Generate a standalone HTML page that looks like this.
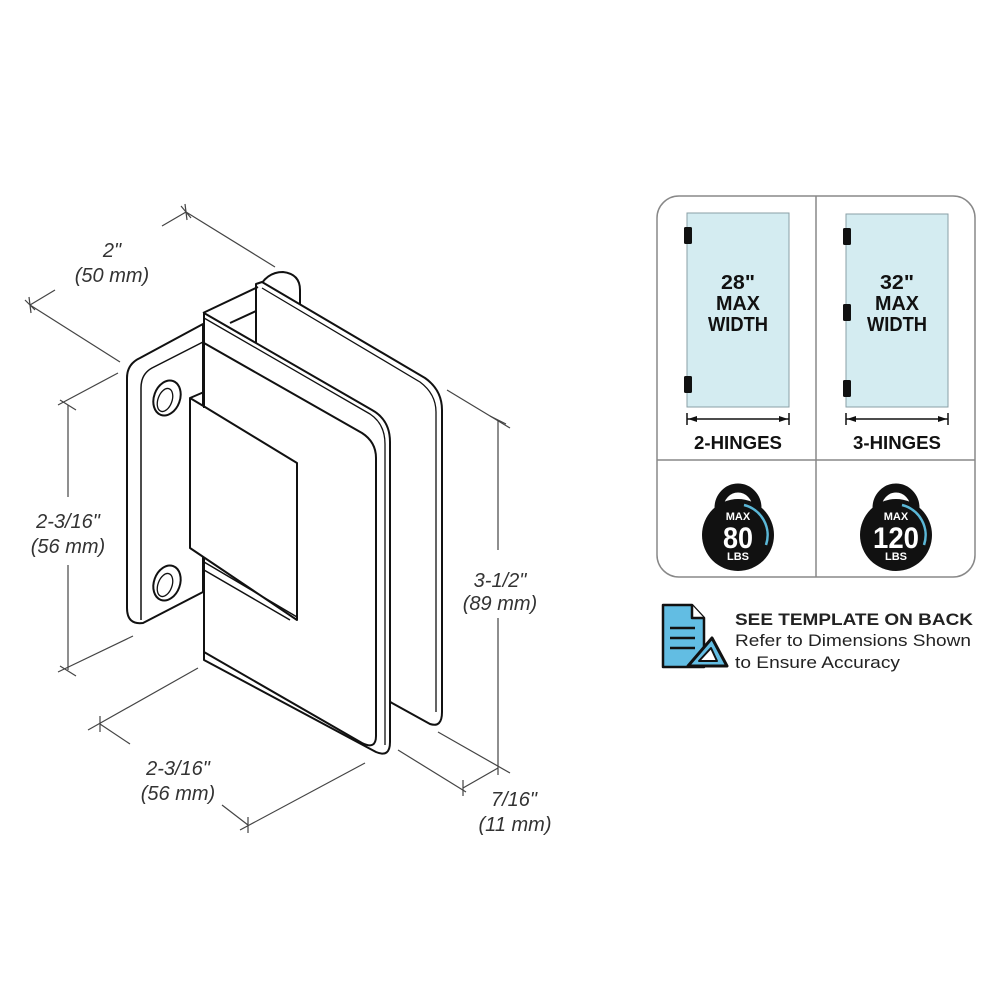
<!DOCTYPE html>
<html><head><meta charset="utf-8"><style>
html,body{margin:0;padding:0;background:#fff}
svg{display:block}
.d{font-family:"Liberation Sans",sans-serif;font-style:italic;font-size:20px;fill:#333;text-anchor:middle}
.b{font-family:"Liberation Sans",sans-serif;font-weight:bold;fill:#111;text-anchor:middle}
</style></head><body>
<svg width="1000" height="1000" viewBox="0 0 1000 1000" xmlns="http://www.w3.org/2000/svg">
<g stroke="#444" stroke-width="1.2" fill="none">
  <line x1="30" y1="305" x2="55" y2="290"/>
  <line x1="162" y1="226" x2="186" y2="212"/>
  <line x1="186" y1="212" x2="275" y2="267"/>
  <line x1="30" y1="305" x2="120" y2="362"/>
  <line x1="181" y1="206" x2="191" y2="218"/><line x1="185" y1="204" x2="187" y2="220"/>
  <line x1="25" y1="300" x2="35" y2="310"/><line x1="29" y1="297" x2="31" y2="313"/>
  <line x1="68" y1="405" x2="68" y2="497"/>
  <line x1="68" y1="565" x2="68" y2="670"/>
  <line x1="58" y1="405" x2="118" y2="373"/>
  <line x1="58" y1="672" x2="133" y2="636"/>
  <line x1="60" y1="400" x2="76" y2="410"/><line x1="60" y1="666" x2="76" y2="676"/>
  <line x1="88" y1="730" x2="198" y2="668"/>
  <line x1="100" y1="724" x2="130" y2="744"/>
  <line x1="222" y1="805" x2="248" y2="825"/>
  <line x1="240" y1="830" x2="365" y2="763"/>
  <line x1="100" y1="716" x2="100" y2="732"/><line x1="248" y1="817" x2="248" y2="833"/>
  <line x1="398" y1="750" x2="466" y2="792"/>
  <line x1="438" y1="732" x2="510" y2="773"/>
  <line x1="463" y1="788" x2="498" y2="768"/>
  <line x1="463" y1="780" x2="463" y2="796"/>
  <line x1="447" y1="390" x2="510" y2="428"/>
  <line x1="498" y1="420" x2="498" y2="550"/>
  <line x1="498" y1="618" x2="498" y2="775"/>
  <line x1="490" y1="416" x2="506" y2="424"/>
</g>
<text class="d" x="112" y="257">2"</text>
<text class="d" x="112" y="282">(50 mm)</text>
<text class="d" x="68" y="528">2-3/16"</text>
<text class="d" x="68" y="553">(56 mm)</text>
<text class="d" x="178" y="775">2-3/16"</text>
<text class="d" x="178" y="800">(56 mm)</text>
<text class="d" x="500" y="587">3-1/2"</text>
<text class="d" x="500" y="610">(89 mm)</text>
<text class="d" x="514" y="806">7/16"</text>
<text class="d" x="515" y="831">(11 mm)</text>

<g stroke="#111" stroke-width="2" fill="#fff" stroke-linejoin="round">
  <path d="M258,290 Q266,272 283,272 Q300,274 300,290 L300,305 L258,320 Z"/>
  <path d="M256,284 L262,282 L425,378 Q442,390 442,410 L442,712 Q442,728 430,724 L392,703 L256,620 Z"/>
  <path d="M262,288 L420,382 Q436,394 436,412 L436,712" fill="none" stroke-width="1.3"/>
  <path d="M203,313 L258,287 M230,323 L256,311" fill="none"/>
  <path d="M127,378 Q127,364 140,358 L203,324 L203,592 L143,623 Q127,625 127,608 Z"/>
  <path d="M141,388 Q141,374 152,368 L203,342 M141,388 L141,620" fill="none" stroke-width="1.5"/>
  <ellipse cx="167" cy="398" rx="13" ry="18" transform="rotate(20 167 398)"/>
  <ellipse cx="165" cy="400" rx="7" ry="12" transform="rotate(20 165 400)" stroke-width="1.3"/>
  <ellipse cx="167" cy="583" rx="13" ry="18" transform="rotate(20 167 583)"/>
  <ellipse cx="165" cy="585" rx="7" ry="12" transform="rotate(20 165 585)" stroke-width="1.3"/>
  <path d="M204,313 L372,410 Q390,420 390,442 L390,742 Q390,758 376,752 L204,660 Z"/>
  <path d="M204,318 L370,414 Q385,424 385,444 L385,745" fill="none" stroke-width="1.3"/>
  <path d="M204,343 L362,433 Q376,442 376,458 L376,736 Q376,750 362,743 L204,652 Z"/>
  <path d="M190,398 L205,407 L297,463 L297,620 L190,548 Z"/>
  <path d="M190,398 L204,392 L204,408" fill="none"/>
  <path d="M204,562 L297,617 M204,570 L290,620" fill="none" stroke-width="1.5"/>
</g>

<rect x="657" y="196" width="318" height="381" rx="22" fill="#fff" stroke="#888" stroke-width="1.5"/>
<line x1="816" y1="196" x2="816" y2="577" stroke="#888" stroke-width="1.5"/>
<line x1="657" y1="460" x2="975" y2="460" stroke="#888" stroke-width="1.5"/>
<rect x="687" y="213" width="102" height="194" fill="#d4ecf1" stroke="#8a9fa6" stroke-width="1"/>
<rect x="846" y="214" width="102" height="193" fill="#d4ecf1" stroke="#8a9fa6" stroke-width="1"/>
<g fill="#111">
  <rect x="684" y="227" width="8" height="17" rx="1.5"/>
  <rect x="684" y="376" width="8" height="17" rx="1.5"/>
  <rect x="843" y="228" width="8" height="17" rx="1.5"/>
  <rect x="843" y="304" width="8" height="17" rx="1.5"/>
  <rect x="843" y="380" width="8" height="17" rx="1.5"/>
</g>
<g stroke="#111" stroke-width="1.5" fill="#111">
  <line x1="687" y1="419" x2="789" y2="419"/><line x1="687" y1="413" x2="687" y2="425"/><line x1="789" y1="413" x2="789" y2="425"/>
  <path d="M688,419 L697,416 L697,422 Z M788,419 L779,416 L779,422 Z" stroke="none"/>
  <line x1="846" y1="419" x2="948" y2="419"/><line x1="846" y1="413" x2="846" y2="425"/><line x1="948" y1="413" x2="948" y2="425"/>
  <path d="M847,419 L856,416 L856,422 Z M947,419 L938,416 L938,422 Z" stroke="none"/>
</g>
<g font-size="20">
  <text x="738" y="289" class="b" textLength="34" lengthAdjust="spacingAndGlyphs">28"</text>
  <text x="738" y="310" class="b" textLength="44" lengthAdjust="spacingAndGlyphs">MAX</text>
  <text x="738" y="331" class="b" textLength="60" lengthAdjust="spacingAndGlyphs">WIDTH</text>
  <text x="897" y="289" class="b" textLength="34" lengthAdjust="spacingAndGlyphs">32"</text>
  <text x="897" y="310" class="b" textLength="44" lengthAdjust="spacingAndGlyphs">MAX</text>
  <text x="897" y="331" class="b" textLength="60" lengthAdjust="spacingAndGlyphs">WIDTH</text>
</g>
<text class="b" x="738" y="449" font-size="18" textLength="88" lengthAdjust="spacingAndGlyphs">2-HINGES</text>
<text class="b" x="897" y="449" font-size="18" textLength="88" lengthAdjust="spacingAndGlyphs">3-HINGES</text>

<g>
  <path d="M719,518 L719,508 A19,20 0 0 1 757,508 L757,518" stroke="#111" stroke-width="9" fill="none"/>
  <circle cx="738" cy="535" r="36" fill="#111"/>
  <path d="M744,505 A31,31 0 0 1 766,545" stroke="#5bb8d8" stroke-width="2.5" fill="none"/>
  <text x="738" y="520" font-family="Liberation Sans,sans-serif" font-weight="bold" font-size="11" fill="#fff" text-anchor="middle">MAX</text>
  <text x="738" y="548" font-family="Liberation Sans,sans-serif" font-weight="bold" font-size="30" fill="#fff" text-anchor="middle" textLength="30" lengthAdjust="spacingAndGlyphs">80</text>
  <text x="738" y="560" font-family="Liberation Sans,sans-serif" font-weight="bold" font-size="11" fill="#fff" text-anchor="middle">LBS</text>

  <path d="M877,518 L877,508 A19,20 0 0 1 915,508 L915,518" stroke="#111" stroke-width="9" fill="none"/>
  <circle cx="896" cy="535" r="36" fill="#111"/>
  <path d="M902,505 A31,31 0 0 1 924,545" stroke="#5bb8d8" stroke-width="2.5" fill="none"/>
  <text x="896" y="520" font-family="Liberation Sans,sans-serif" font-weight="bold" font-size="11" fill="#fff" text-anchor="middle">MAX</text>
  <text x="896" y="548" font-family="Liberation Sans,sans-serif" font-weight="bold" font-size="30" fill="#fff" text-anchor="middle" textLength="46" lengthAdjust="spacingAndGlyphs">120</text>
  <text x="896" y="560" font-family="Liberation Sans,sans-serif" font-weight="bold" font-size="11" fill="#fff" text-anchor="middle">LBS</text>
</g>

<g stroke="#111" stroke-width="2.5" stroke-linejoin="round">
  <path d="M663,605 L692,605 L704,618 L704,667 L663,667 Z" fill="#62bde3"/>
  <path d="M692,605 L692,618 L704,618" fill="#fff"/>
  <line x1="670" y1="628" x2="695" y2="628"/>
  <line x1="670" y1="638" x2="695" y2="638"/>
  <line x1="670" y1="648" x2="695" y2="648"/>
  <path d="M688,666 L712,638 L727,666 Z" fill="#62bde3" stroke-width="3"/>
  <path d="M699,661 L711,648 L717,661 Z" fill="#fff" stroke-width="2"/>
</g>
<text x="735" y="625" font-family="Liberation Sans,sans-serif" font-weight="bold" font-size="17" fill="#222" textLength="238" lengthAdjust="spacingAndGlyphs">SEE TEMPLATE ON BACK</text>
<text x="735" y="646" font-family="Liberation Sans,sans-serif" font-size="17" fill="#222" textLength="236" lengthAdjust="spacingAndGlyphs">Refer to Dimensions Shown</text>
<text x="735" y="668" font-family="Liberation Sans,sans-serif" font-size="17" fill="#222" textLength="165" lengthAdjust="spacingAndGlyphs">to Ensure Accuracy</text>
</svg>
</body></html>
